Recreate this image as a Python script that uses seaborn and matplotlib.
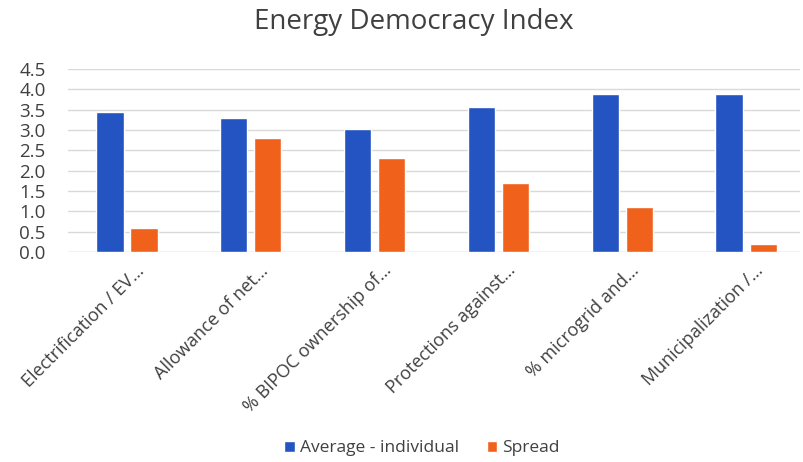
import pandas as pd
import matplotlib
matplotlib.use("Agg")
import matplotlib.pyplot as plt
import matplotlib.transforms as mtransforms
import seaborn as sns
from matplotlib.patches import Patch

# ── 数据 ──────────────────────────────────────────────
categories = ["Electrification / EV…", "Allowance of net…", "% BIPOC ownership of…",
              "Protections against…", "% microgrid and…", "Municipalization /…"]
series_names = ["Average - individual", "Spread"]
average_vals = [3.45, 3.3, 3.02, 3.56, 3.88, 3.88]
spread_vals = [0.6, 2.8, 2.3, 1.7, 1.1, 0.2]
y_ticks = [0.0, 0.5, 1.0, 1.5, 2.0, 2.5, 3.0, 3.5, 4.0, 4.5]

BLUE = "#2453C2"
ORANGE = "#F0621C"

df = pd.DataFrame({
    "category": categories * 2,
    "series": [series_names[0]] * len(categories) + [series_names[1]] * len(categories),
    "value": average_vals + spread_vals,
})

sns.set_theme(style="white")
plt.rcParams["font.family"] = ["Open Sans", "DejaVu Sans"]

fig = plt.figure(figsize=(8.04, 4.62), dpi=100)
ax = fig.add_axes([68 / 804, 1 - 252 / 462, (800 - 68) / 804, (252 - 69) / 462])

sns.barplot(data=df, x="category", y="value", hue="series",
            palette=[BLUE, ORANGE], width=0.55, gap=0.2,
            saturation=1, ax=ax, legend=False)

ax.set_ylim(0, 4.5)
ax.set_xlim(-0.476, 5.435)
ax.set_yticks(y_ticks)
ax.set_yticklabels([f"{v:.1f}" for v in y_ticks], fontsize=13.5, color="#404040")
ax.yaxis.grid(True, color="#D9D9D9", linewidth=1)
ax.set_axisbelow(True)
for s in ax.spines.values():
    s.set_visible(False)
ax.axhline(0, color="#D9D9D9", linewidth=1, zorder=0)
ax.tick_params(axis="y", length=0, pad=16)
ax.tick_params(axis="x", length=0, pad=4)
ax.set_xlabel("")
ax.set_ylabel("")
ax.set_xticks(range(len(categories)))
ax.set_xticklabels(categories, rotation=45, ha="right", rotation_mode="anchor",
                   fontsize=13, color="#404040")
# 标签整体略向右偏
shift = mtransforms.ScaledTranslation(8 / 100, -4 / 100, fig.dpi_scale_trans)
for lab in ax.get_xticklabels():
    lab.set_transform(lab.get_transform() + shift)

fig.text(0.515, 0.952, "Energy Democracy Index", ha="center", va="center",
         fontsize=20, color="#404040")

handles = [Patch(facecolor=BLUE, label=series_names[0]),
           Patch(facecolor=ORANGE, label=series_names[1])]
fig.legend(handles=handles, loc="center", bbox_to_anchor=(0.525, 0.03), ncol=2,
           frameon=False, fontsize=12.5, handlelength=0.6, handleheight=0.6,
           handletextpad=0.3, columnspacing=1.6, labelcolor="#404040")

fig.savefig("out.png", dpi=100)
